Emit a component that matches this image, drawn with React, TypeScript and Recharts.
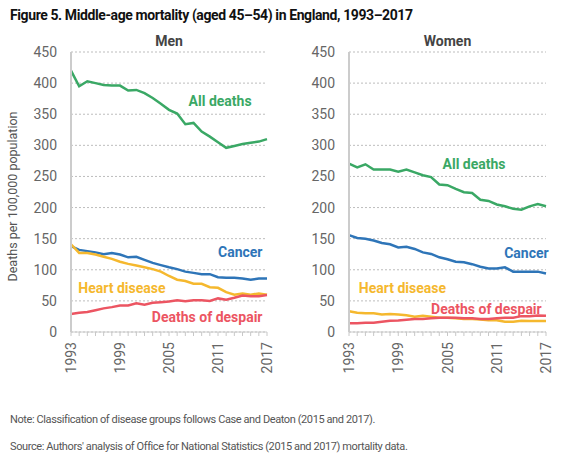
import React from 'react';
import { LineChart, Line, XAxis, YAxis, CartesianGrid, ReferenceDot } from 'recharts';

const years = [1993,1994,1995,1996,1997,1998,1999,2000,2001,2002,2003,2004,2005,2006,2007,2008,2009,2010,2011,2012,2013,2014,2015,2016,2017];
const labelYears = [1993, 1999, 2005, 2011, 2017];
const yTicks = [0, 50, 100, 150, 200, 250, 300, 350, 400, 450];

const menAll = [420,395,403,400,397,396,396,388,389,384,376,367,357,351,334,336,322,314,305,296,299,302,304,306,310];
const menCancer = [138,132,130,128,125,127,124.5,120,121,116,111,107.5,104,101,97,95,93,93,88,87,87,86,84,86,86];
const menHeart = [141,127,127,124.5,121,117.5,113,109.5,107,104,101,97,90,84,82,77.5,77.5,72,71,64,60,62,60,62,60];
const menDespair = [29,31,32,35,38,40,42.5,42.5,46,44,47,48,49,51,49.5,51,51,50,54,52,55,58.5,57.5,57.5,59.5];

const womenAll = [270.5,264.6,269.5,261,261,261,257.6,261,256.5,252,249,237,236,230,224.6,223.5,212.6,210.6,205,202,198,196.6,202,205.6,202];
const womenCancer = [155.6,151,150,147,143,141,136,137,133.5,128,125.5,120,117,113,112,109,105,102,102,104,97,97,97,97,94];
const womenHeart = [33.5,31,30,30,28,29,28,27,24.5,26,24.5,23,23,22,21,21,20,19,19,16.5,16.5,18,17.5,17.5,17.5];
const womenDespair = [14,14,15,15,16.5,18,18.6,19.7,21,21,22,23,23,23,22,22,21,21,22,23,23,25.5,25.5,26.6,26];

const seriesNames = ['All deaths', 'Cancer', 'Heart disease', 'Deaths of despair'];
const colors = ['#3aa865', '#2e75b8', '#f5b82e', '#ec5562'];

const menLabelPos = [[2007.4, 371], [2011, 128.6], [1993.9, 70.7], [2002.9, 24]];
const womenLabelPos = [[2004.4, 270], [2011.9, 127], [1994.2, 70.7], [2003, 37]];

const FONT = 'Roboto, "Noto Sans", sans-serif';

function buildData(all: number[], cancer: number[], heart: number[], despair: number[]) {
  return years.map((y, i) => ({ year: y, all: all[i], cancer: cancer[i], heart: heart[i], despair: despair[i] }));
}

const XTick = (props: any) => {
  const { x, y, payload } = props;
  if (!labelYears.includes(payload.value)) return <g />;
  return (
    <text x={x} y={y} transform={`rotate(-90 ${x} ${y})`} textAnchor="end" dominantBaseline="central"
      fontSize={14} fill="#666" fontFamily={FONT}>{payload.value}</text>
  );
};

const makeLabel = (text: string, color: string) => (p: any) => (
  <text x={p.cx} y={p.cy} dominantBaseline="central" textAnchor="start" fontSize={14} fontWeight={700}
    fill={color} fontFamily={FONT}>{text}</text>
);

function Panel(props: { data: any[]; width: number; yWidth: number; right: number; labelPos: number[][] }) {
  const { data, width, yWidth, right, labelPos } = props;
  const keys = ['all', 'cancer', 'heart', 'despair'];
  return (
    <LineChart width={width} height={390} data={data} margin={{ top: 52, right, left: 0, bottom: 8 }}>
      <CartesianGrid horizontal vertical={false} stroke="#bdbdbd" strokeDasharray="2 2" />
      <XAxis dataKey="year" type="number" domain={[1993, 2017]} ticks={years} interval={0}
        axisLine={{ stroke: '#cccccc', strokeWidth: 1 }} tickLine={{ stroke: '#c8c8c8' }} tickSize={4}
        tick={<XTick />} height={50} tickMargin={6} />
      <YAxis type="number" domain={[0, 450]} ticks={yTicks} interval={0} width={yWidth}
        axisLine={{ stroke: '#cccccc', strokeWidth: 2 }} tickLine={false} tickMargin={8}
        tick={{ fontSize: 14, fill: '#666', fontFamily: FONT }} />
      {keys.map((k, i) => (
        <Line key={k} dataKey={k} stroke={colors[i]} strokeWidth={2.5} dot={false} isAnimationActive={false} type="linear" />
      ))}
      {labelPos.map((pos, i) => (
        <ReferenceDot key={i} x={pos[0]} y={pos[1]} r={0} shape={makeLabel(seriesNames[i], colors[i])} ifOverflow="visible" />
      ))}
    </LineChart>
  );
}

export default function App() {
  const menData = buildData(menAll, menCancer, menHeart, menDespair);
  const womenData = buildData(womenAll, womenCancer, womenHeart, womenDespair);
  return (
    <div style={{ position: 'absolute', left: 0, top: 0, width: 565, height: 469, background: '#fff', fontFamily: FONT }}>
      <div style={{ position: 'absolute', left: 10, top: 7, fontSize: 14, fontWeight: 700, color: '#111', whiteSpace: 'nowrap', letterSpacing: -0.4 }}>
        Figure 5. Middle-age mortality (aged 45–54) in England, 1993–2017
      </div>
      <div style={{ position: 'absolute', left: 71, width: 196, top: 33, textAlign: 'center', fontSize: 14, fontWeight: 700, color: '#444' }}>Men</div>
      <div style={{ position: 'absolute', left: 349, width: 197, top: 33, textAlign: 'center', fontSize: 14, fontWeight: 700, color: '#444' }}>Women</div>
      <div style={{ position: 'absolute', left: 0, top: 0 }}>
        <Panel data={menData} width={290} yWidth={71} right={23} labelPos={menLabelPos} />
      </div>
      <div style={{ position: 'absolute', left: 280, top: 0 }}>
        <Panel data={womenData} width={285} yWidth={69} right={19} labelPos={womenLabelPos} />
      </div>
      <div style={{ position: 'absolute', left: 0, top: 60, width: 26, height: 272, display: 'flex', alignItems: 'center', justifyContent: 'center' }}>
        <div style={{ transform: 'rotate(-90deg)', whiteSpace: 'nowrap', fontSize: 12.5, color: '#555' }}>Deaths per 100,000 population</div>
      </div>
      <div style={{ position: 'absolute', left: 10, top: 413, fontSize: 11, color: '#555', whiteSpace: 'nowrap', letterSpacing: -0.4 }}>
        Note: Classification of disease groups follows Case and Deaton (2015 and 2017).
      </div>
      <div style={{ position: 'absolute', left: 10, top: 440, fontSize: 11, color: '#555', whiteSpace: 'nowrap', letterSpacing: -0.4 }}>
        Source: Authors' analysis of Office for National Statistics (2015 and 2017) mortality data.
      </div>
    </div>
  );
}
